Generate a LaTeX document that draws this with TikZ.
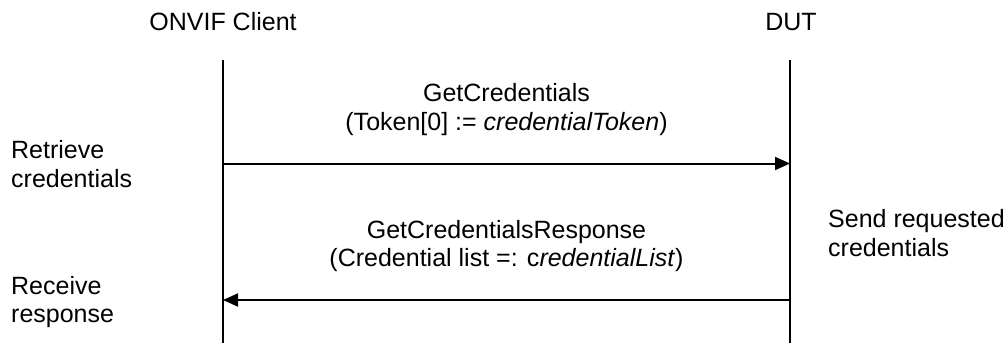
\documentclass[tikz,border=0pt]{standalone}
\usepackage{fontspec}
\setmainfont{Liberation Sans}
\usetikzlibrary{arrows.meta}
\tikzset{
  lbl/.style={inner sep=0pt, font=\fontsize{25}{28.2}\selectfont},
  lifeline/.style={line width=2pt},
  msg/.style={line width=2pt, -{Triangle[length=15pt,width=13pt]}, shorten >=0pt},
}
\begin{document}
\begin{tikzpicture}[x=1pt,y=-1pt]
\useasboundingbox (0,0) rectangle (1008,343);
% headers
\node[lbl, anchor=base] (client) at (223,30) {ONVIF Client};
\node[lbl, anchor=base] (dut) at (791,30) {DUT};
% lifelines
\coordinate (ctop) at (223,60);
\coordinate (cbot) at (223,343);
\coordinate (dtop) at (790,60);
\coordinate (dbot) at (790,343);
\draw[lifeline] (ctop) -- (cbot);
\draw[lifeline] (dtop) -- (dbot);
% message points
\coordinate (m1s) at (223,163.5);
\coordinate (m1e) at (790,163.5);
\coordinate (m2s) at (790,300);
\coordinate (m2e) at (223,300);
\draw[msg] (m1s) -- (m1e);
\draw[msg] (m2s) -- (m2e);
% message labels (base = last line's baseline)
\node[lbl, anchor=base, align=center] (l1) at (506.5,130) {GetCredentials\\(Token[0] := \textit{credentialToken})};
\node[lbl, anchor=base, align=center] (l2) at (506.5,266.7) {GetCredentialsResponse\\(Credential list =: c\textit{redentialList})};
% side notes
\node[lbl, anchor=base west, align=left] (n1) at (11,187) {Retrieve\\credentials};
\node[lbl, anchor=base west, align=left] (n2) at (11,322.7) {Receive\\response};
\node[lbl, anchor=base west, align=left] (n3) at (828,256) {Send requested\\credentials};
\end{tikzpicture}
\end{document}
